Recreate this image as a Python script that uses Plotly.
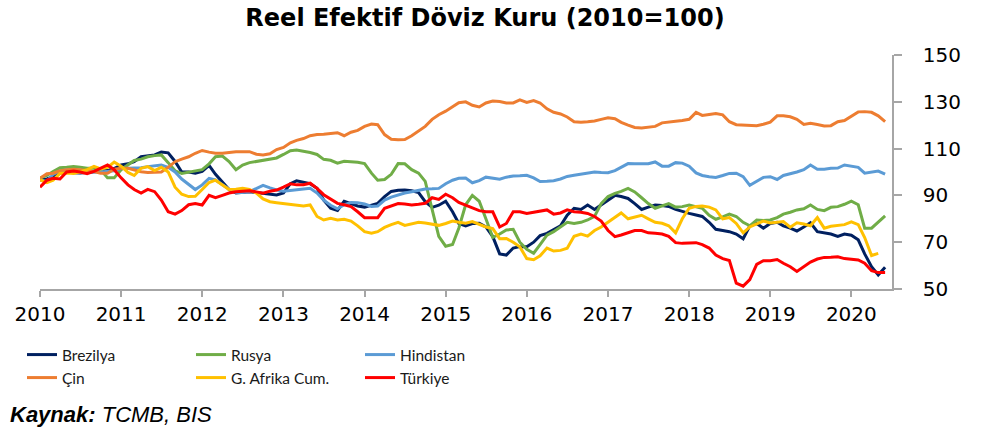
import plotly.graph_objects as go
import pandas as pd

months = pd.date_range("2010-01-01", periods=126, freq="MS")

brezilya = [96.6, 97, 98, 99.5, 100.2, 99.7, 99.6, 99.8, 100, 100.1, 100.6, 101.5,
            103, 103.5, 104.4, 106.5, 107, 107.3, 108.5, 108.2, 104.5, 100, 100, 99.5,
            100.3, 102.8, 99, 95.5, 92.5, 91, 91.3, 91.6, 91.2, 90.9, 90.5, 90.2,
            91, 95, 96.2, 95.7, 95, 93, 88, 84.5, 83.6, 87.5, 86.5, 85.5,
            85, 85.8, 86.6, 89.5, 91.7, 92.2, 92.3, 92, 91.2, 87.3, 84.9, 85.8,
            87.5, 83, 78, 77, 78, 78.1, 76.5, 72.4, 65, 64.5, 67.5, 68.1,
            68.1, 70, 72.8, 73.8, 75.5, 77, 81.5, 84.5, 84, 85.9, 84, 86,
            88, 90, 89.5, 88.7, 86.5, 84, 85, 85.9, 85.7, 85.3, 84, 83,
            82.3, 81.6, 81, 78.5, 75.5, 75, 74.5, 73.5, 71.5, 77, 78, 76,
            78, 78.5, 77, 76, 74.8, 76.5, 78.3, 74.5, 74, 73.5, 72.5, 73.5,
            73, 71, 65, 59.5, 56, 59.3]

rusya = [97.4, 98.5, 100.2, 101.8, 102, 102.3, 102, 101.6, 101.6, 101, 97.5, 97.5,
         101, 103, 104.9, 105.5, 106.5, 107, 107.3, 104, 100.5, 99.4, 100, 100.5,
         101, 103.5, 106.5, 106.8, 104.5, 101, 103, 104, 104.5, 104.8, 105.2, 106,
         107.5, 109.1, 109.4, 109, 108.3, 107.5, 105.4, 105, 103.8, 104.6, 104.5, 104.2,
         103.6, 99.5, 96.5, 96.8, 99, 103.6, 103.5, 101, 99.5, 96, 84, 72.5,
         68.3, 69, 76, 86, 90, 87.5, 80, 72, 73.5, 75.2, 75.5, 70,
         67, 65.3, 69, 73, 74.5, 76.5, 78.5, 78, 78.5, 79.5, 81, 86.5,
         89.5, 90.9, 91.7, 93, 91.5, 89, 86.5, 84.5, 85.5, 86.5, 85, 85.2,
         85.9, 85.3, 84.5, 81.5, 79.8, 80.8, 82, 81, 78.5, 77, 79.5, 79.3,
         79.5, 80.5, 82, 82.8, 83.8, 84.3, 85.9, 84, 83.5, 84.9, 85.2, 86.2,
         87.5, 86, 76, 76, 78.5, 81.2]

hindistan = [96.6, 96, 99, 100.5, 100.8, 99.8, 99.8, 100, 100.1, 100, 100.1, 100.5,
             101.5, 101.6, 101.6, 101.8, 102.3, 102.6, 103, 102, 100, 97, 94.5, 92.5,
             94.5, 97.3, 96.6, 94.5, 92.6, 91.2, 91.2, 91.6, 93, 94.3, 93.2, 92.3,
             91.8, 92, 92.3, 92.7, 93, 91, 88, 85.8, 84.3, 86, 87, 86.9,
             86.3, 85.3, 85.5, 88, 89.3, 90.3, 91, 91.6, 92.1, 92.7, 92.8, 93,
             95, 96.5, 97.3, 97.4, 95.4, 96.3, 97.8, 97.5, 96.9, 97.8, 98.3, 98.4,
             98.6, 97.5, 95.9, 96, 96.3, 97, 98.1, 98.6, 99.1, 99.6, 100, 99.8,
             99.7, 100.6, 102, 103.6, 103.5, 103.4, 103.5, 104.3, 102.5, 102.5, 104, 103.8,
             102.5, 99.6, 98.5, 98, 97.7, 98.5, 99.4, 99.5, 98, 94.3, 96, 97.7,
             98, 96.8, 98.5, 99.2, 100, 101, 103, 101.2, 101.2, 101.6, 101.7, 103,
             102.5, 102, 99.5, 100.1, 100.4, 99.1]

cin = [97.3, 99.3, 99.5, 100.5, 101, 101.2, 101, 100.7, 100.2, 99.5, 99.5, 101.2,
       101.6, 101.6, 101, 100.1, 99.8, 99.8, 100, 102, 104.4, 105.5, 106.5, 108,
       109.2, 108.5, 108, 108, 108.5, 108.7, 108.7, 108.7, 107.6, 107.3, 107.8, 109.6,
       110.5, 112.5, 113.5, 114.3, 115.5, 116, 116.1, 116.5, 116.8, 115.5, 117, 117.8,
       119.5, 120.5, 120.2, 116, 114, 113.8, 113.9, 115.5, 117.5, 119.5, 122.5, 124.5,
       126, 128, 129.6, 130, 128.5, 127.8, 129.5, 130.3, 130.1, 129.5, 129.5, 130.8,
       129.7, 130.5, 129.5, 127, 125.5, 124.8, 123.5, 121.5, 121.3, 121.5, 121.8, 122.5,
       123.2, 122.8, 121.2, 120, 119, 118.8, 119, 119.5, 121, 121.5, 121.7, 122,
       122.5, 125.5, 124.2, 124.6, 125, 124.4, 121.5, 120.2, 120, 119.9, 119.8, 120.4,
       121.3, 124, 124, 123.6, 122.5, 120.3, 120.8, 120.3, 119.7, 119.8, 121.5, 122,
       124, 125.7, 125.8, 125.5, 124, 121.5]

g_afrika = [96.6, 95.5, 96.5, 99.4, 99.6, 99.4, 100.1, 101, 102.4, 101.3, 102, 104.2,
            102.5, 99.8, 98.5, 101.6, 102.3, 100.6, 102, 100, 93.5, 90.5, 89.5, 89.6,
            92.5, 95.5, 96.5, 94.5, 92.5, 92.6, 93, 92.5, 91, 88.5, 87.3, 86.9,
            86.5, 86, 85.6, 85.5, 85.9, 81, 79.5, 80.2, 79.5, 79.8, 79, 77,
            74.5, 73.8, 74.5, 76.3, 77.5, 78.5, 77.2, 77.8, 78.5, 78.2, 77.8, 77.2,
            78, 79, 78.5, 78.1, 78.8, 77.5, 76.5, 75.8, 71.5, 71.6, 70, 68,
            63, 62.5, 64.2, 67.5, 66.2, 66.5, 67.4, 72.5, 73.5, 72.6, 75, 76.5,
            78.5, 80.5, 82.5, 80, 80.8, 81.5, 80, 78.5, 78.1, 77, 74, 80,
            84.5, 85.3, 85.5, 85, 83.8, 80, 80.5, 78, 74, 76.5, 77.8, 79,
            78.2, 78.5, 78.8, 76.4, 78.3, 77.8, 77, 80.5, 76, 76.8, 77.2, 77.5,
            78.7, 77.5, 72, 64.3, 65.2, None]

turkiye = [93.5, 96.5, 97.3, 97, 100, 100.4, 100, 99.3, 100.3, 101.5, 103, 101,
           97.5, 94.5, 92.5, 91, 92.6, 91.6, 88, 83, 82, 83.5, 86, 86.5,
           85.9, 90, 89, 90, 91, 91.6, 91.8, 92, 91.5, 90.9, 91.8, 92.3,
           93.5, 95, 94.5, 94.6, 95.2, 93, 90.3, 88.5, 86.6, 86, 85.2, 83,
           80.5, 80.5, 80.5, 84.5, 85.5, 86.5, 86.3, 85.9, 86.2, 86.6, 89, 88.3,
           90.5, 89, 87, 85.9, 84.5, 83.5, 83, 83, 76.5, 78, 83, 83,
           82.3, 82.8, 83.2, 83.8, 82, 82.5, 83.8, 83, 82.8, 82.3, 81, 79,
           75, 72.4, 73.1, 74.2, 75, 75, 74, 73.8, 73.5, 72.5, 69.8, 69.5,
           69.6, 69.8, 69, 67.5, 64.5, 63, 62.2, 52.5, 51.2, 54, 60.5, 62.1,
           62.1, 62.6, 61, 59.5, 57.5, 59.5, 61.5, 62.8, 63.5, 63.6, 63.8, 63,
           62.6, 62.4, 61, 57.8, 57, 57]

series = [
    ("Brezilya", brezilya, "#002060", "legend"),
    ("Rusya", rusya, "#70AD47", "legend"),
    ("Hindistan", hindistan, "#5B9BD5", "legend"),
    ("Çin", cin, "#ED7D31", "legend2"),
    ("G. Afrika Cum.", g_afrika, "#FFC000", "legend2"),
    ("Türkiye", turkiye, "#FF0000", "legend2"),
]

year_ticks = pd.date_range("2010-01-01", "2020-01-01", freq="YS")
y_ticks = [50, 70, 90, 110, 130, 150]

W, H = 982, 432
L, R, T, B = 40, 90, 55, 143

fig = go.Figure()
for nm, vals, col, lg in series:
    fig.add_trace(go.Scatter(x=months, y=vals, name=nm, mode="lines",
                             line=dict(color=col, width=3), legend=lg,
                             connectgaps=False))

legend_font = dict(family="Lato", size=15.5, color="#1a1a1a")
common_leg = dict(orientation="h", xref="container", yref="container",
                  xanchor="left", yanchor="top", entrywidth=124,
                  entrywidthmode="pixels", font=legend_font,
                  bgcolor="rgba(0,0,0,0)", itemwidth=30, traceorder="normal")

fig.update_layout(
    width=W, height=H,
    margin=dict(l=L, r=R, t=T, b=B, pad=0),
    paper_bgcolor="white", plot_bgcolor="white",
    title=dict(text="<b>Reel Efektif Döviz Kuru (2010=100)</b>",
               x=485 / W, xref="container", xanchor="center",
               y=1 - 18 / H, yref="container", yanchor="middle",
               font=dict(family="DejaVu Sans", size=24, color="#000000")),
    xaxis=dict(type="date", range=["2010-01-01", "2020-07-02"],
               tickvals=list(year_ticks), tickformat="%Y",
               showgrid=False, zeroline=False,
               showline=True, linecolor="#A6A6A6", linewidth=1.5,
               ticks="outside", ticklen=6, tickcolor="#A6A6A6", tickwidth=1.5,
               tickfont=dict(family="DejaVu Sans", size=20, color="#000000")),
    yaxis=dict(side="right", range=[50, 150], tickvals=y_ticks,
               showgrid=False, zeroline=False,
               showline=True, linecolor="#A6A6A6", linewidth=1.5,
               ticks="outside", ticklen=8, tickcolor="#A6A6A6", tickwidth=1.5,
               ticklabelstandoff=17,
               tickfont=dict(family="DejaVu Sans", size=20, color="#000000")),
    legend=dict(x=22 / W, y=1 - 338 / H, **common_leg),
    legend2=dict(x=22 / W, y=1 - 361 / H, **common_leg),
    showlegend=True,
    annotations=[dict(text="<b><i>Kaynak:</i></b><i> TCMB, BIS</i>",
                      xref="paper", yref="paper",
                      x=(8 - L) / (W - L - R), y=-(414 - (H - B)) / (H - T - B),
                      xanchor="left", yanchor="middle", showarrow=False,
                      font=dict(family="Liberation Sans", size=22, color="#000000"))],
)

fig.write_html("out.html")
